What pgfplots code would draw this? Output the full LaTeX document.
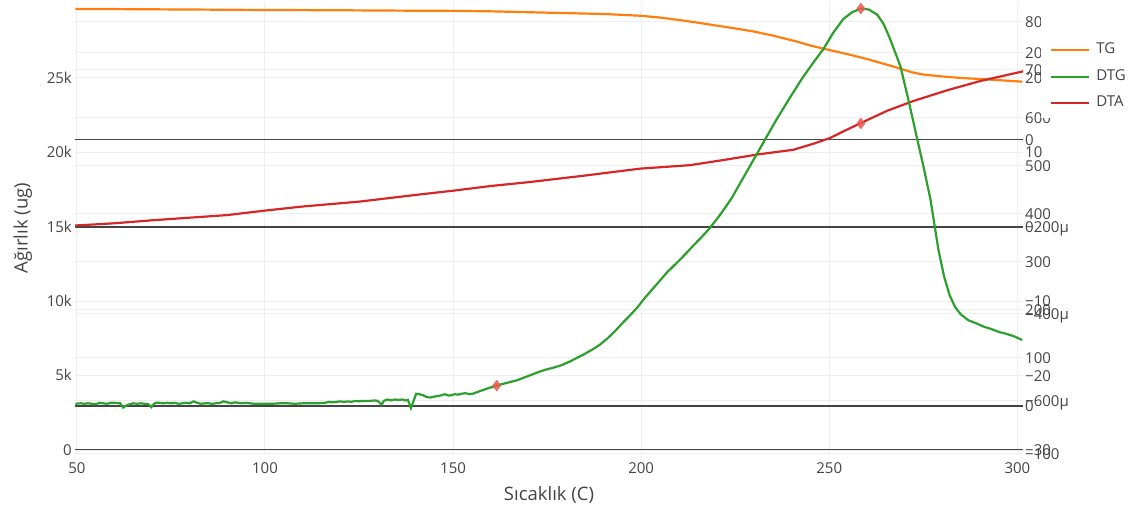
\documentclass[border=0pt]{standalone}
\usepackage{fontspec}
\setmainfont{Open Sans}
\usepackage{pgfplots}
\pgfplotsset{compat=1.18}
\definecolor{txt}{HTML}{444444}
\definecolor{grd}{HTML}{EEEEEE}
\definecolor{zl}{HTML}{444444}
\definecolor{tgc}{HTML}{FF7F0E}
\definecolor{dtgc}{HTML}{2CA02C}
\definecolor{dtac}{HTML}{D62728}
\definecolor{mk}{HTML}{EB5A50}
\newcommand{\tf}{\fontsize{15}{15}\selectfont}
\pgfplotsset{
 base/.style={at={(75pt,59pt)},anchor=south west,width=948pt,height=452pt,scale only axis,xmin=49.5,xmax=301.5,scaled ticks=false},
 tgy/.style={ymin=-269,ymax=30107},
 dtgy/.style={ymin=-100.7,ymax=841.7},
 dtay/.style={ymin=-30.47,ymax=30.2},
 muy/.style={ymin=-722,ymax=317},
 gridax/.style={base, major tick length=0pt, axis line style={draw=none}, ymajorgrids, grid style={grd,line width=1pt}},
 rlab/.style={hide x axis, xtick=\empty, axis y line*=right,
   yticklabel style={anchor=west,inner sep=0pt,text height=10.7pt,text depth=0pt,font=\tf,text=txt,xshift=2pt}},
 plotax/.style={base, hide axis, xtick=\empty, ytick=\empty},
 zeroline/.style={extra y ticks={0}, extra y tick labels={0},
   extra y tick style={ymajorgrids=true, grid style={zl,line width=#1}, major grid style={zl,line width=#1}}},
 mkstyle/.style={only marks, mark=diamond*, color=mk, mark size=5.5pt, mark options={fill=mk, draw=mk, opacity=0.85}},
}
\begin{document}
\begin{tikzpicture}[x=1pt,y=1pt]
\useasboundingbox (0,0) rectangle (1134,513);
% 1: TG grid / left axis / x axis
\begin{axis}[gridax, tgy, xmajorgrids,
  ytick={5000,10000,15000,20000,25000}, yticklabels={5k,10k,15k,20k,25k},
  zeroline=1.8pt,
  xtick={50,100,150,200,250,300}, xticklabels={50,100,150,200,250,300},
  yticklabel style={anchor=east,inner sep=0pt,text height=10.7pt,text depth=0pt,xshift=-3pt,font=\tf,text=txt},
  xticklabel style={anchor=north,inner sep=0pt,yshift=-8pt,font=\tf,text=txt},
  xlabel={Sıcaklık (C)}, ylabel={Ağırlık (ug)},
  every axis x label/.style={at={(axis description cs:0.5,-0.0907)},anchor=center,font=\fontsize{18.5}{18.5}\selectfont,text=txt},
  every axis y label/.style={at={(axis description cs:-0.0550,0.5)},rotate=90,anchor=center,font=\fontsize{18.5}{18.5}\selectfont,text=txt},
]
\end{axis}
% 2: micro axis
\begin{axis}[gridax, muy, rlab, zeroline=1.1pt,
  ytick={-600,-400,-200,200}, yticklabels={−600μ,−400μ,−200μ,200μ}]
\end{axis}
% 3: DTA axis
\begin{axis}[gridax, dtay, rlab, zeroline=1.1pt,
  ytick={-30,-20,-10,10,20}, yticklabels={−30,−20,−10,10,20}]
\end{axis}
% 4: DTG axis
\begin{axis}[gridax, dtgy, rlab, zeroline=1.8pt,
  ytick={-100,100,200,300,400,500,600,700,800}, yticklabels={−100,100,200,300,400,500,600,700,800}]
\end{axis}
% 5: TG plot + legend
\begin{axis}[plotax, tgy,
  legend image code/.code={\draw[#1] (0pt,0pt) -- (38pt,0pt);},
  legend style={at={(axis description cs:1.0190,0.9845)}, anchor=north west, fill=white, draw=none,
    inner xsep=9pt, inner ysep=8pt, row sep=13.5pt, column sep=6pt,
    nodes={inner sep=0pt, text height=10pt, text depth=3pt, font=\tf, text=txt}},
  legend cell align=left]
\addlegendimage{empty legend}\addlegendentry{}
\addplot[tgc, line width=2.2pt] coordinates {
(49.6,29640)(60,29630)(80,29600)(100,29570)(120,29550)(140,29520)(150,29510)(160,29480)
(170,29420)(180,29360)(190,29300)(200,29180)(205,29060)(210,28900)(215,28720)(220,28520)
(225,28330)(230,28120)(235,27850)(241.5,27440)(245,27180)(250,26880)(255,26590)(259,26340)
(263,26060)(268,25700)(272,25380)(275,25230)(280,25100)(285.6,24990)(290,24930)(294.7,24860)(301.3,24750)};
\addlegendentry{TG}
\addlegendimage{dtgc, line width=2.2pt}\addlegendentry{DTG}
\addlegendimage{dtac, line width=2.2pt}\addlegendentry{DTA}
\end{axis}
% 6: DTA plot
\begin{axis}[plotax, dtay]
\addplot[dtac, line width=2.2pt] coordinates {
(49.5,0.2)(55,0.35)(60,0.5)(70,0.9)(80,1.25)(90,1.6)(100,2.2)(110,2.75)(125,3.4)(140,4.3)
(150.5,4.9)(160,5.5)(170.5,6.04)(185,6.9)(199.7,7.83)(213,8.3)(222,9.0)(230.9,9.73)(240.4,10.36)
(245.7,11.16)(250.3,11.96)(254,12.9)(258.2,13.9)(262,14.8)(265.4,15.6)(272.3,16.9)(281.4,18.36)
(290.2,19.6)(301.6,20.9)};
\addplot[mkstyle] coordinates {(258.4,13.9)};
\end{axis}
% 7: DTG plot
\begin{axis}[plotax, dtgy]
\addplot[dtgc, line width=2.2pt] coordinates {
(49.6,4)(51,5)(52,4)(53,5)(54,4)(55,3)(56,6)(57,5)(58,4)(59,6)(60,6)(61.5,5)(62.3,-4)(63,0)
(64,3)(65,5)(66,4)(67,5)(68,4)(69,3)(69.8,-3)(70.5,4)(71,6)(72,6)(73,5)(74,6)(75,5)(76,6)
(77,4)(78,5)(79,6)(80,5)(81,9)(82,6)(83,4)(84,5)(85,5)(86,4)(87,5)(88,6)(89,9)(90,7)(91,5)
(92,7)(93,6)(94,5)(95,6)(96,5)(97,4)(98,4)(100,4)(102,4)(104,5)(106,5)(108,4)(110,5)(112,5)
(114,5)(116,6)(117,8)(118,7)(119,8)(120,9)(121,8)(122,9)(123,8)(124,10)(125,9)(126,10)
(127,10)(128,10)(129,11)(130,10)(131,2)(131.6,10)(132.5,13)(133.5,11)(134.5,13)(135.5,12)
(136.5,13)(137.3,11)(138,12)(138.8,-5)(139.5,10)(140.2,25)(141,24)(142,22)(143,18)(144,17)
(145,19)(146,20)(147,22)(147.8,24)(148.8,21)(149.6,22)(150.5,24)(151.3,23)(152.3,25)
(153.3,26)(154.3,24)(155.3,25)(156.3,28)(157.3,31)(158.5,34)(159.5,37)(160.5,39)(161.6,42)
(163,45)(165,49)(167,53)(169,59)(171,65)(173,71)(175,76)(177,80)(179,85)(181,92)(183,100)
(185,108)(187,117)(189,127)(191,140)(193,155)(195,172)(197,188)(199,205)(201,225)(203,243)
(205,261)(207,279)(210,302)(212,318)(214,335)(216,351)(218,368)(221,398)(224,432)(228,487)(232.5,549)(236,597)
(239.6,643)(243,685)(246,718)(248.4,743)(251,777)(253.7,806)(256,820)(258.4,828)(260.5,826)
(262.8,815)(264.5,795)(266.2,764)(268.9,708)(271,639)(273.4,555)(275,500)(276.9,430)(279,326)
(280.5,270)(282,230)(283.5,205)(285,190)(287,178)(289,172)(291,165)(293,160)(295,154)
(297,150)(299,145)(301.3,137)};
\addplot[mkstyle] coordinates {(161.6,42)(258.4,828)};
\end{axis}
\end{tikzpicture}
\end{document}
